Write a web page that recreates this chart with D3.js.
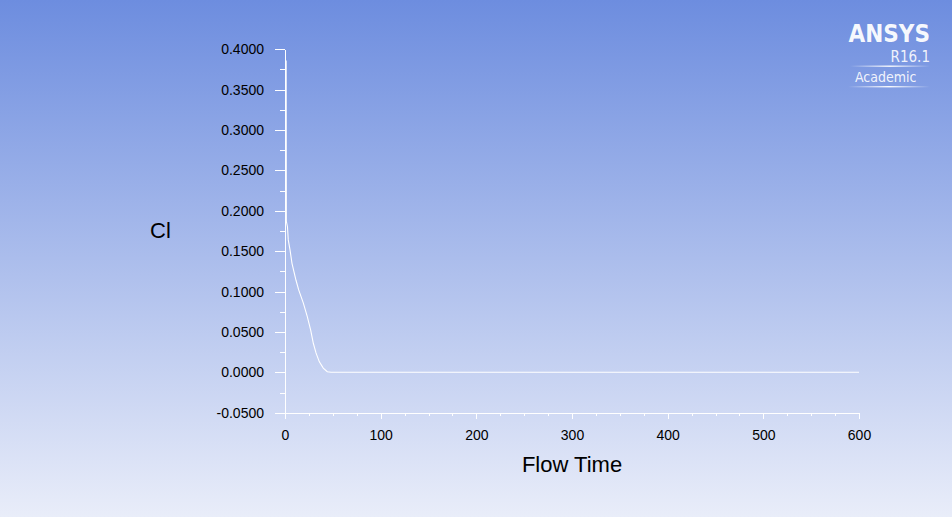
<!DOCTYPE html>
<html>
<head>
<meta charset="utf-8">
<script src="https://cdn.jsdelivr.net/npm/d3@7"></script>
<style>
    html, body { margin: 0; padding: 0; overflow: hidden; }
    svg { display: block; }
</style>
</head>
<body>
<div id="chart"></div>
<script>
// Cl history
const flowTime = [1.2, 1.4, 2.6, 3.4, 5.2, 7.3, 11.5, 14.3, 19.1, 23.3, 26.9, 29.6, 32.4, 35.9, 40.0, 44.2, 48.1, 100, 200, 300, 400, 500, 600];
const clValues = [0.386, 0.187, 0.180, 0.164, 0.152, 0.135, 0.114, 0.102, 0.086, 0.069, 0.052, 0.036, 0.024, 0.013, 0.0053, 0.0007, 0.0, 0.0, 0.0, 0.0, 0.0, 0.0, 0.0];

const xMajorTicks = [0, 100, 200, 300, 400, 500, 600];
const yMajorTicks = [-0.05, 0, 0.05, 0.1, 0.15, 0.2, 0.25, 0.3, 0.35, 0.4];

const xLabel = 'Flow Time';
const yLabel = 'Cl';

// Specify the chart's dimensions.
const width = 952;
const height = 517;
const plotLeft = 285, plotRight = 859, plotTop = 49.3, plotBottom = 412.7;

const x = d3.scaleLinear().domain([0, 600]).range([plotLeft, plotRight]);
const y = d3.scaleLinear().domain([-0.05, 0.4]).range([plotBottom, plotTop]);

const svg = d3.select('#chart').append('svg')
    .attr('width', width)
    .attr('height', height)
    .attr('viewBox', [0, 0, width, height]);

// Background gradient
const defs = svg.append('defs');
const bg = defs.append('linearGradient')
    .attr('id', 'bg')
    .attr('x1', 0).attr('y1', 0).attr('x2', 0).attr('y2', 1);
bg.append('stop').attr('offset', '0%').attr('stop-color', '#6d8ddf');
bg.append('stop').attr('offset', '100%').attr('stop-color', '#e9edf9');

const fade = defs.append('linearGradient')
    .attr('id', 'fade')
    .attr('x1', 0).attr('y1', 0).attr('x2', 1).attr('y2', 0);
fade.append('stop').attr('offset', '0%').attr('stop-color', '#fff').attr('stop-opacity', 0);
fade.append('stop').attr('offset', '50%').attr('stop-color', '#fff').attr('stop-opacity', 0.95);
fade.append('stop').attr('offset', '100%').attr('stop-color', '#fff').attr('stop-opacity', 0);

svg.append('rect')
    .attr('width', width)
    .attr('height', height)
    .attr('fill', 'url(#bg)');

const font = 'Liberation Sans, Arial, sans-serif';

// Minor ticks
svg.append('g')
    .attr('transform', `translate(0,${plotBottom})`)
    .call(d3.axisBottom(x).tickValues(d3.range(0, 601, 25)).tickSize(3).tickFormat(''))
    .call(g => g.select('.domain').remove())
    .call(g => g.selectAll('line').attr('stroke', '#fff').attr('shape-rendering', 'crispEdges'));

svg.append('g')
    .attr('transform', `translate(${plotLeft},0)`)
    .call(d3.axisLeft(y).tickValues(d3.range(-0.05, 0.4001, 0.025)).tickSize(5).tickFormat(''))
    .call(g => g.select('.domain').remove())
    .call(g => g.selectAll('line').attr('stroke', '#fff').attr('shape-rendering', 'crispEdges'));

// Major ticks and labels (plain hyphen for the minus, as in Fluent)
const yFormat = d => d3.format('.4f')(d).replace('\u2212', '-');

const xAxis = svg.append('g')
    .attr('transform', `translate(0,${plotBottom})`)
    .call(d3.axisBottom(x).tickValues(xMajorTicks).tickSize(6).tickSizeOuter(0).tickPadding(11.5).tickFormat(d3.format('d')));

const yAxis = svg.append('g')
    .attr('transform', `translate(${plotLeft},0)`)
    .call(d3.axisLeft(y).tickValues(yMajorTicks).tickSize(10).tickSizeOuter(0).tickPadding(11).tickFormat(yFormat));

[xAxis, yAxis].forEach(g => {
    g.select('.domain').attr('stroke', '#fff').attr('shape-rendering', 'crispEdges');
    g.selectAll('line').attr('stroke', '#fff').attr('shape-rendering', 'crispEdges');
    g.selectAll('text')
        .attr('fill', '#000')
        .attr('font-family', font)
        .attr('font-size', 14);
});

// Cl curve
const line = d3.line()
    .x((d, i) => x(flowTime[i]))
    .y(d => y(d));

svg.append('path')
    .datum(clValues)
    .attr('fill', 'none')
    .attr('stroke', '#fff')
    .attr('stroke-width', 1.1)
    .attr('d', line);

// Axis titles
svg.append('text')
    .attr('x', (plotLeft + plotRight) / 2)
    .attr('y', 471.7)
    .attr('text-anchor', 'middle')
    .attr('font-family', font)
    .attr('font-size', 22)
    .attr('fill', '#000')
    .text(xLabel);

svg.append('text')
    .attr('x', 150)
    .attr('y', 238.3)
    .attr('font-family', font)
    .attr('font-size', 22)
    .attr('fill', '#000')
    .text(yLabel);

// ANSYS badge
const logo = svg.append('g')
    .attr('font-family', 'DejaVu Sans Condensed, DejaVu Sans, sans-serif')
    .attr('fill', '#fff');

logo.append('text')
    .attr('x', 930).attr('y', 41.7)
    .attr('text-anchor', 'end')
    .attr('font-weight', 'bold')
    .attr('font-size', 24)
    .attr('fill-opacity', 0.95)
    .text('ANSYS');

logo.append('text')
    .attr('x', 930).attr('y', 61.7)
    .attr('text-anchor', 'end')
    .attr('font-size', 15)
    .attr('fill-opacity', 0.9)
    .text('R16.1');

logo.append('rect')
    .attr('x', 850).attr('y', 65.5).attr('width', 80).attr('height', 1.4)
    .attr('fill', 'url(#fade)');

logo.append('text')
    .attr('x', 855).attr('y', 82)
    .attr('font-size', 14)
    .attr('fill-opacity', 0.9)
    .text('Academic');

logo.append('rect')
    .attr('x', 848).attr('y', 86).attr('width', 82).attr('height', 1.4)
    .attr('fill', 'url(#fade)');
</script>
</body>
</html>
